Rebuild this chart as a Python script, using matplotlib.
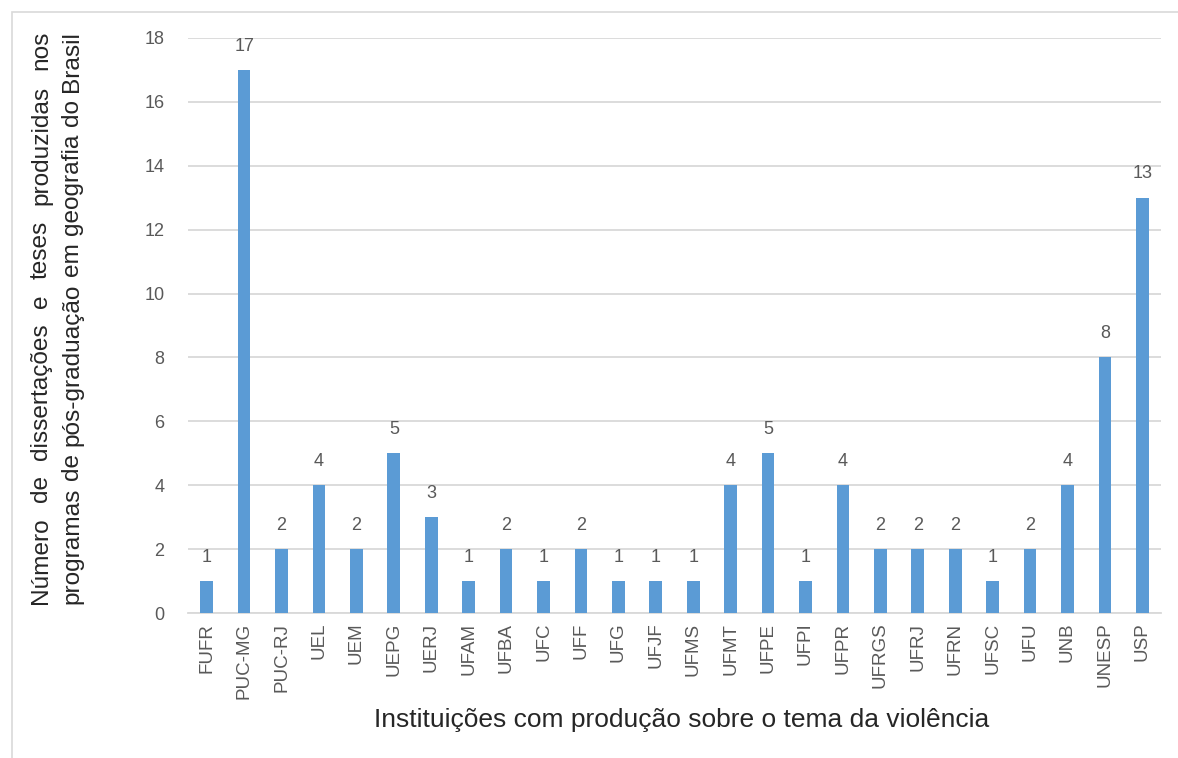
import matplotlib
matplotlib.use("Agg")
import matplotlib.pyplot as plt
from matplotlib.patches import Rectangle
from matplotlib import font_manager as fm

# Institutions and number of theses/dissertations on violence
institutions = ["FUFR", "PUC-MG", "PUC-RJ", "UEL", "UEM", "UEPG", "UERJ", "UFAM",
                "UFBA", "UFC", "UFF", "UFG", "UFJF", "UFMS", "UFMT", "UFPE", "UFPI",
                "UFPR", "UFRGS", "UFRJ", "UFRN", "UFSC", "UFU", "UNB", "UNESP", "USP"]
counts = [1, 17, 2, 4, 2, 5, 3, 1, 2, 1, 2, 1, 1, 1, 4, 5, 1, 4, 2, 2, 2, 1, 2, 4, 8, 13]
y_ticks = [0, 2, 4, 6, 8, 10, 12, 14, 16, 18]

ylabel_lines = ["Número de dissertações e teses produzidas nos",
                "programas de pós-graduação em geografia do Brasil"]
xlabel = "Instituições com produção sobre o tema da violência"

available = {f.name for f in fm.fontManager.ttflist}
narrow = "Liberation Sans Narrow" if "Liberation Sans Narrow" in available else "Liberation Sans"
label_font = "Liberation Sans"

BAR = "#5B9BD5"
GRID = "#D9D9D9"
TICK = "#595959"
TITLE = "#262626"

W, H = 1178, 758
fig = plt.figure(figsize=(W / 100, H / 100), dpi=100)
fig.patch.set_facecolor("white")
ax = fig.add_axes([188 / W, 1 - 613 / H, (1161 - 188) / W, (613 - 38) / H])

x = list(range(len(institutions)))
ax.bar(x, counts, width=0.34, color=BAR, zorder=3)
ax.set_xlim(-0.5, len(institutions) - 0.5)
ax.set_ylim(0, 18)
ax.set_yticks(y_ticks)
ax.set_xticks(x)
ax.set_xticklabels(institutions, rotation=90, fontsize=13.5, color=TICK, family=narrow)
ax.set_yticklabels([str(v) for v in y_ticks], fontsize=13, color=TICK, family=narrow)
ax.tick_params(axis="y", length=0, pad=17)
ax.tick_params(axis="x", length=0, pad=7)
ax.grid(axis="y", color=GRID, linewidth=1.3, zorder=0)
for s in ["top", "right", "left"]:
    ax.spines[s].set_visible(False)
ax.spines["bottom"].set_color(GRID)
ax.spines["bottom"].set_linewidth(1.3)

for xi, v in zip(x, counts):
    ax.annotate(str(v), (xi, v), xytext=(0, 11), textcoords="offset points",
                ha="center", va="bottom", fontsize=13, color=TICK, family=narrow)

# Axis titles: size the text to the span it occupies
renderer = fig.canvas.get_renderer()

def text_width(s, size):
    t = fig.text(0, 0, s, fontsize=size, family=label_font)
    w = t.get_window_extent(renderer).width
    t.remove()
    return w

xl_size = 10 * 617 / text_width(xlabel, 10)
fig.text(((373 + 990) / 2) / W, 1 - 720 / H, xlabel, ha="center", va="center",
         fontsize=xl_size, family=label_font, color=TITLE)

# Two justified vertical lines for the y title
y_bottom, y_top = 604, 31
span = y_bottom - y_top
yl_size = 10 * span / text_width(ylabel_lines[1], 10)
line_x = [41, 72]
for line, lx in zip(ylabel_lines, line_x):
    words = line.split()
    widths = [text_width(w, yl_size) for w in words]
    gap = (span - sum(widths)) / (len(words) - 1)
    pos = y_bottom
    for w, wd in zip(words, widths):
        fig.text(lx / W, 1 - pos / H, w, rotation=90, ha="left", va="center",
                 rotation_mode="anchor", fontsize=yl_size, family=label_font,
                 color=TITLE)
        pos -= wd + gap

# Light frame around the chart area
fig.patches.append(Rectangle((12 / W, -0.05), 1.2, (H - 12) / H + 0.05,
                             transform=fig.transFigure, fill=False,
                             edgecolor="#D9D9D9", linewidth=1.2))

fig.savefig("out.png", dpi=100, facecolor="white")
